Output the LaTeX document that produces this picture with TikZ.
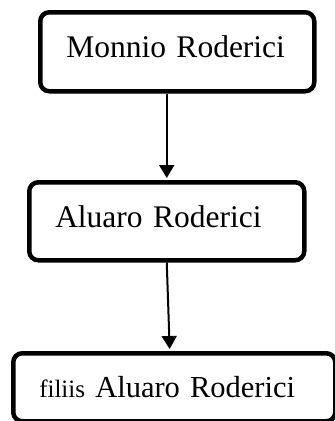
\documentclass[tikz,border=0pt]{standalone}
\usepackage{fontspec}
\setmainfont{Liberation Serif}
\usepackage{tikz}
\usetikzlibrary{arrows.meta,positioning,calc}

\begin{document}
\begin{tikzpicture}[x=1pt,y=-1pt,
  famnode/.style={draw=black,line width=4.5pt,rounded corners=9pt,anchor=north west,
    inner xsep=26pt,inner ysep=0pt,align=left},
  descent/.style={line width=2pt,-{Triangle[length=13pt,width=15pt]},shorten >=2pt}]
\useasboundingbox (0,0) rectangle (335,421);
\node[famnode,text width=222pt,text height=45pt,text depth=34pt,font=\fontsize{31.5pt}{36pt}\selectfont]
  (monnio) at (38,10) {Monnio Roderici};
\node[famnode,text width=223pt,text height=45pt,text depth=33pt,font=\fontsize{31.5pt}{36pt}\selectfont]
  (aluaro) at (27,180) {Aluaro Roderici};
\node[famnode,text width=270pt,text height=44pt,text depth=24pt,font=\fontsize{30.5pt}{36pt}\selectfont]
  (filii) at (11,351) {{\fontsize{25pt}{30pt}\selectfont filiis} Aluaro Roderici};
\draw[descent] (monnio.south -| aluaro.north) -- (aluaro.north);
\draw[descent] (aluaro.south) -- ([xshift=3pt]aluaro.south |- filii.north);
\end{tikzpicture}
\end{document}
